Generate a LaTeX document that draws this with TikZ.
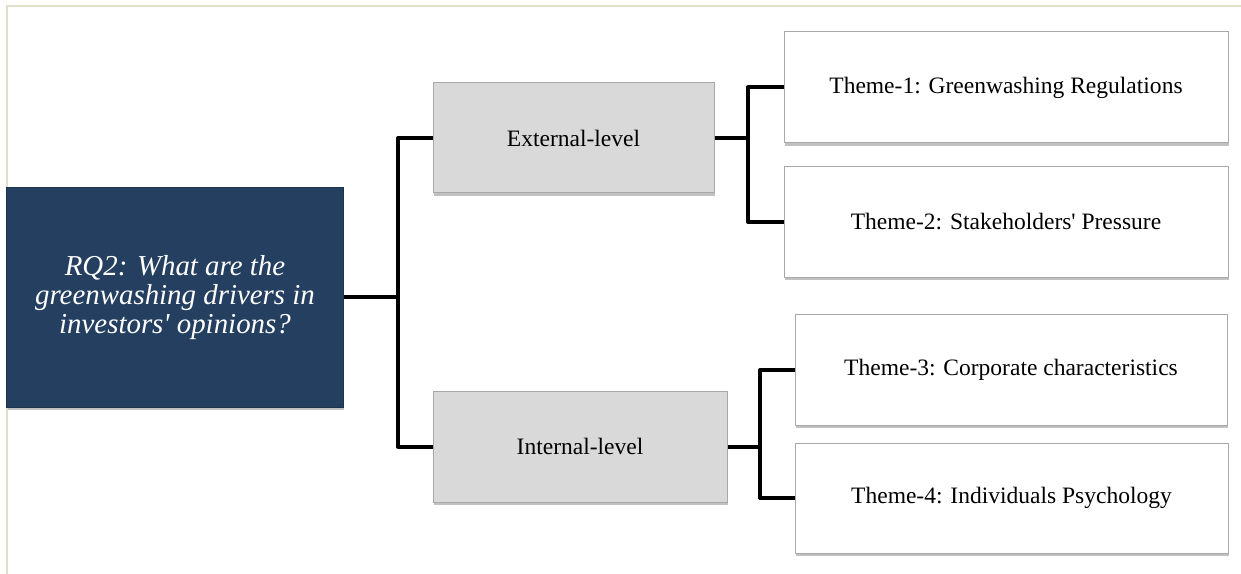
\documentclass[tikz,border=0pt]{standalone}
\usepackage{fontspec}
\setmainfont{Liberation Serif}
\usetikzlibrary{shadows}
\definecolor{frameC}{HTML}{E2DECA}
\definecolor{navy}{HTML}{243F60}
\definecolor{lvlfill}{HTML}{D9D9D9}
\definecolor{boxline}{HTML}{A8A8A8}
\begin{document}
\begin{tikzpicture}[x=1bp,y=-1bp,
  base/.style={draw=boxline, line width=1bp, rectangle, inner sep=0pt, align=center,
    drop shadow={shadow xshift=0.6bp, shadow yshift=-2.6bp, opacity=0.35, fill=black!70}},
  rqbox/.style={base, draw=navy!80!black, fill=navy, text=white,
    font=\fontsize{29}{29.5}\selectfont\itshape},
  lvlbox/.style={base, fill=lvlfill, font=\fontsize{23.6}{28}\selectfont},
  themebox/.style={base, fill=white, font=\fontsize{23.6}{28}\selectfont},
  conn/.style={line width=4bp, line join=round, draw=black}
]
\useasboundingbox (0,0) rectangle (1241,574);
\draw[frameC, line width=1.5bp] (1241,6) -- (7,6) -- (7,574);

\node[rqbox, minimum width=336bp, minimum height=219bp] (rq) at (175,297.5)
  {RQ2: What are the\\greenwashing drivers in\\investors\textquotesingle\ opinions?};
\node[lvlbox, minimum width=281bp, minimum height=110bp] (ext) at (573.5,138) {External-level};
\node[lvlbox, minimum width=294bp, minimum height=111bp] (int) at (580,446.5) {Internal-level};
\node[themebox, minimum width=444bp, minimum height=111bp] (t1) at (1006,87.5) {Theme-1: Greenwashing Regulations};
\node[themebox, minimum width=444bp, minimum height=110bp] (t2) at (1006,222) {Theme-2: Stakeholders\textquotesingle\ Pressure};
\node[themebox, minimum width=432bp, minimum height=110bp] (t3) at (1011,370) {Theme-3: Corporate characteristics};
\node[themebox, minimum width=433bp, minimum height=110bp] (t4) at (1011.5,498) {Theme-4: Individuals Psychology};

\coordinate (j0) at (398,297.5);
\coordinate (j1) at (748,138);
\coordinate (j2) at (760,446.5);

\draw[conn] (rq.east) -- (j0);
\draw[conn] (ext.west) -| (j0) |- (int.west);
\draw[conn] (ext.east) -- (j1);
\draw[conn] (t1.west) -| (j1) |- (t2.west);
\draw[conn] (int.east) -- (j2);
\draw[conn] (t3.west) -| (j2) |- (t4.west);
\end{tikzpicture}
\end{document}
